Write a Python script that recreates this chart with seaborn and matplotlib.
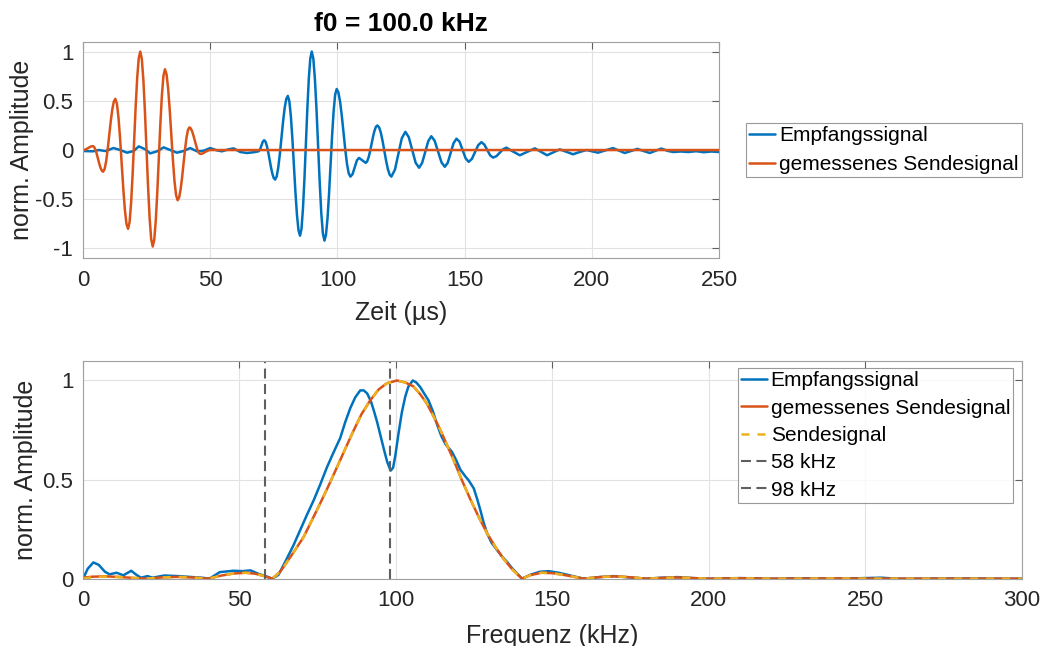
import matplotlib
matplotlib.use("Agg")
import matplotlib.pyplot as plt
import pandas as pd
import seaborn as sns

# ---------------------------------------------------------------- time domain
# received signal (µs, normalised amplitude)
t_rx = [0, 3.9, 6.2, 8.8, 12.0, 14.7, 17.3, 19.9, 21.9, 24.5,
        26.4, 29.1, 31.7, 34.3, 36.9, 39.5, 42.1, 44.8, 47.4, 50.0,
        52.6, 54.6, 57.2, 59.2, 61.8, 64.4, 67.0, 69.0,
        69.55, 70.1, 70.65, 71.2,
        71.74, 72.28, 72.81, 73.35, 73.89, 74.43, 74.96, 75.5,
        76.13, 76.75, 77.38, 78.0, 78.63, 79.25, 79.88, 80.5,
        81.1, 81.7, 82.3, 82.9, 83.5, 84.1, 84.7, 85.3,
        85.88, 86.45, 87.03, 87.6, 88.18, 88.75, 89.33, 89.9,
        90.53, 91.15, 91.78, 92.4, 93.03, 93.65, 94.28, 94.9,
        95.5, 96.1, 96.7, 97.3, 97.9, 98.5, 99.1, 99.7,
        100.38, 101.05, 101.73, 102.4, 103.08, 103.75, 104.43, 105.1,
        105.95, 106.8, 107.65, 108.5, 109.8, 111.1,
        111.68, 112.25, 112.83, 113.4, 113.98, 114.55, 115.13, 115.7,
        116.39, 117.08, 117.76, 118.45, 119.14, 119.83, 120.51, 121.2,
        122.6, 123.95, 125.3, 126.7, 128.05, 129.4, 130.75, 132.1,
        133.3, 134.5, 135.7, 136.9, 138.2, 139.55, 140.9, 142.2,
        143.35, 144.5, 145.65, 146.8, 148.0, 149.2, 150.4, 151.6,
        152.85, 154.1, 155.35, 156.6, 157.75, 158.9, 160.05, 161.2,
        162.5, 163.8, 165.1, 166.4,
        169.0, 171.7, 174.6, 177.6, 180.0, 182.4, 184.9, 187.4,
        190.0, 192.6, 195.2, 197.9, 200.1, 202.4, 205.3, 208.3,
        210.6, 212.9, 215.4, 217.9, 220.3, 222.8, 225.0, 227.3,
        230, 232, 235, 238, 241, 244, 247, 250]
a_rx = [-0.01, -0.013, 0.0, -0.01, 0.02, 0.0, -0.027, -0.01, 0.037, 0.007,
        -0.034, -0.013, 0.027, 0.0, -0.027, -0.01, 0.02, -0.013, -0.007, 0.02,
        -0.003, -0.013, 0.007, 0.017, -0.02, -0.03, -0.023, -0.013,
        0.003, 0.044, 0.084, 0.10,
        0.085, 0.041, -0.023, -0.10, -0.177, -0.241, -0.285, -0.30,
        -0.268, -0.176, -0.038, 0.125, 0.288, 0.426, 0.518, 0.55,
        0.496, 0.342, 0.112, -0.16, -0.432, -0.662, -0.816, -0.87,
        -0.799, -0.596, -0.293, 0.065, 0.423, 0.726, 0.929, 1.0,
        0.927, 0.719, 0.408, 0.04, -0.328, -0.639, -0.847, -0.92,
        -0.861, -0.694, -0.445, -0.15, 0.145, 0.394, 0.561, 0.62,
        0.586, 0.49, 0.345, 0.175, 0.005, -0.14, -0.236, -0.27,
        -0.245, -0.175, -0.105, -0.08, -0.105, -0.13,
        -0.116, -0.074, -0.013, 0.06, 0.133, 0.194, 0.236, 0.25,
        0.23, 0.174, 0.09, -0.01, -0.11, -0.194, -0.25, -0.27,
        -0.20, -0.04, 0.12, 0.185, 0.13, 0.0, -0.13, -0.18,
        -0.13, -0.02, 0.09, 0.14, 0.095, -0.015, -0.125, -0.17,
        -0.13, -0.03, 0.07, 0.115, 0.085, 0.0, -0.085, -0.12,
        -0.09, -0.02, 0.05, 0.08, 0.055, 0.0, -0.055, -0.077,
        -0.062, -0.027, 0.008, 0.024,
        -0.015, -0.053, -0.018, 0.017, -0.018, -0.053, -0.023, 0.007,
        -0.018, -0.043, -0.02, 0.0, -0.013, -0.027, -0.004, 0.02,
        -0.005, -0.03, -0.01, 0.012, -0.01, -0.03, -0.008, 0.015,
        -0.01, -0.02, -0.015, -0.02, -0.012, -0.022, -0.015, -0.02]

# measured transmit burst (µs, normalised amplitude)
t_tx = [0, 1.0, 2.0, 3.0, 3.9,
        4.4, 4.9, 5.4, 5.9, 6.4, 6.9, 7.4, 7.9,
        8.5, 9.1, 9.7, 10.3, 10.9, 11.5, 12.1, 12.7,
        13.33, 13.95, 14.58, 15.2, 15.83, 16.45, 17.08, 17.7,
        18.3, 18.9, 19.5, 20.1, 20.7, 21.3, 21.9, 22.5,
        23.11, 23.73, 24.34, 24.95, 25.56, 26.18, 26.79, 27.4,
        28.0, 28.6, 29.2, 29.8, 30.4, 31.0, 31.6, 32.2,
        32.83, 33.45, 34.08, 34.7, 35.33, 35.95, 36.58, 37.2,
        37.78, 38.35, 38.93, 39.5, 40.08, 40.65, 41.23, 41.8,
        42.34, 42.88, 43.41, 43.95, 44.49, 45.0, 45.56, 46.1,
        47.0, 48.0, 49.0, 50.0, 250.0]
a_tx = [0.0, 0.005, 0.02, 0.035, 0.04,
        0.03, 0.002, -0.04, -0.09, -0.14, -0.182, -0.21, -0.22,
        -0.192, -0.112, 0.008, 0.15, 0.292, 0.412, 0.492, 0.52,
        0.47, 0.327, 0.113, -0.14, -0.393, -0.607, -0.75, -0.80,
        -0.732, -0.536, -0.245, 0.10, 0.445, 0.736, 0.932, 1.0,
        0.925, 0.71, 0.389, 0.01, -0.369, -0.69, -0.905, -0.98,
        -0.912, -0.716, -0.425, -0.08, 0.265, 0.556, 0.752, 0.82,
        0.769, 0.625, 0.41, 0.155, -0.10, -0.315, -0.459, -0.51,
        -0.482, -0.402, -0.282, -0.14, 0.002, 0.122, 0.202, 0.23,
        0.22, 0.19, 0.147, 0.095, 0.043, 0.0, -0.03, -0.04,
        -0.035, -0.02, -0.006, 0.0, 0.0]

# ----------------------------------------------------------- frequency domain
f_rx = [0, 1.5, 3.3, 5, 7, 8.5, 10.7, 12.9, 15.4, 17, 18.5, 20.6, 22.2,
        26, 30.5, 35, 38, 40.4, 43.7, 48, 51, 53.5, 56.3, 58.5, 60.5,
        62.5, 65.1, 67.3, 69.4, 71.5, 73.7, 75.8, 77.9, 80, 82.2, 83.8,
        85.4, 87, 88.6, 89.7, 90.8, 92, 92.9, 94, 95.1, 96.2, 97.2, 98.3,
        99.1, 99.8, 100.8, 101.9, 103, 104, 105.4, 106.5, 107.8, 109,
        110.4, 111.8, 113.1, 114.5, 115.8, 116.8, 117.9, 119.2, 120.6,
        122, 123.3, 124.9, 126, 127, 128, 129.1, 130.6, 132.3, 134,
        135.5, 137, 138.2, 140.3, 143, 146, 148.8, 152, 156, 160, 165,
        169.6, 175, 180, 185, 190, 195, 200, 210, 220, 230, 240, 250,
        255, 260, 280, 300]
m_rx = [0.0, 0.05, 0.082, 0.07, 0.035, 0.022, 0.03, 0.017, 0.04, 0.02,
        0.005, 0.013, 0.005, 0.016, 0.013, 0.008, 0.005, 0.0, 0.033, 0.04,
        0.038, 0.042, 0.023, 0.012, 0.0,
        0.02, 0.10, 0.17, 0.245, 0.32, 0.395, 0.475, 0.56, 0.635, 0.71,
        0.79, 0.86, 0.915, 0.95, 0.95, 0.935, 0.895, 0.85, 0.79, 0.72,
        0.65, 0.59, 0.545, 0.56, 0.62, 0.73, 0.84, 0.92, 0.97, 1.0, 0.99,
        0.966, 0.935, 0.90, 0.845, 0.78, 0.72, 0.68, 0.66, 0.64, 0.60,
        0.55, 0.52, 0.495, 0.455, 0.40, 0.345, 0.285, 0.23, 0.18, 0.145,
        0.11, 0.085, 0.055, 0.035, 0.0, 0.02, 0.035, 0.038, 0.03, 0.015,
        0.0, 0.008, 0.013, 0.006, 0.0, 0.005, 0.008, 0.003, 0.0, 0.003,
        0.0, 0.002, 0.0, 0.003, 0.005, 0.0, 0.001, 0.0]

f_tx = [0, 3, 7, 12, 17, 20, 25, 30, 35, 40, 44, 48, 52, 55, 58, 60.5,
        63, 65, 68, 70.5, 73, 75.8, 78.5, 81.1, 83.8, 86.4, 89, 91.8,
        94.5, 97.1, 100.3, 103, 105.6, 107.8, 109.9, 112, 114.2, 116.3,
        118.4, 121, 123.8, 126.5, 129.1, 131.8, 134.4, 137.3, 140.3,
        143, 146.5, 150, 154, 160, 165, 170, 175, 180, 185, 190, 195,
        200, 210, 220, 240, 260, 300]
m_tx = [0.005, 0.01, 0.012, 0.008, 0.003, 0.0, 0.006, 0.009, 0.006, 0.0,
        0.015, 0.026, 0.03, 0.025, 0.013, 0.0,
        0.035, 0.08, 0.15, 0.21, 0.29, 0.38, 0.47, 0.56, 0.655, 0.745,
        0.83, 0.90, 0.955, 0.986, 1.0, 0.99, 0.97, 0.93, 0.883, 0.82,
        0.75, 0.675, 0.60, 0.50, 0.40, 0.31, 0.23, 0.16, 0.10, 0.045, 0.0,
        0.018, 0.03, 0.028, 0.018, 0.0, 0.008, 0.012, 0.007, 0.0, 0.004,
        0.006, 0.003, 0.0, 0.002, 0.0, 0.001, 0.0, 0.0]

# ideal transmit signal spectrum (same sampling grid)
f_ref = list(f_tx)
m_ref = [0.0, 0.008, 0.011, 0.008, 0.003, 0.0, 0.006, 0.009, 0.006, 0.0,
         0.015, 0.026, 0.03, 0.025, 0.013, 0.0,
         0.035, 0.08, 0.15, 0.21, 0.29, 0.38, 0.47, 0.56, 0.655, 0.745,
         0.83, 0.90, 0.955, 0.986, 1.0, 0.99, 0.97, 0.93, 0.883, 0.82,
         0.75, 0.675, 0.60, 0.50, 0.40, 0.31, 0.23, 0.16, 0.10, 0.045, 0.0,
         0.018, 0.03, 0.028, 0.018, 0.0, 0.008, 0.012, 0.007, 0.0, 0.004,
         0.006, 0.003, 0.0, 0.002, 0.0, 0.001, 0.0, 0.0]

f_markers = [58, 98]
marker_labels = ["58 kHz", "98 kHz"]

time_ticks = [0, 50, 100, 150, 200, 250]
freq_ticks = [0, 50, 100, 150, 200, 250, 300]
amp_ticks_top = [-1, -0.5, 0, 0.5, 1]
amp_labels_top = ["-1", "-0.5", "0", "0.5", "1"]
amp_ticks_bot = [0, 0.5, 1]
amp_labels_bot = ["0", "0.5", "1"]

# ---------------------------------------------------------------- styling
sns.set_theme(style="white")
plt.rcParams["font.family"] = ["Liberation Sans", "DejaVu Sans"]
plt.rcParams["axes.unicode_minus"] = False

BLUE = "#0072BD"
ORANGE = "#D95319"
YELLOW = "#EDB120"
GREY = "#5f5f5f"
TXT = "#262626"
LW = 1.8


def style_axes(ax):
    ax.grid(True, color="#e2e2e2", lw=0.8)
    ax.set_axisbelow(True)
    for sp in ax.spines.values():
        sp.set_visible(True)
        sp.set_color("#a0a0a0")
        sp.set_linewidth(0.8)
    ax.tick_params(direction="in", top=True, right=True, length=5, width=0.8,
                   color="#606060", labelsize=16, labelcolor=TXT)
    ax.tick_params(axis="x", pad=8.5)
    ax.tick_params(axis="y", pad=7)


def make_legend(ax, anchor, spacing):
    leg = ax.legend(loc="upper right", bbox_to_anchor=anchor,
                    bbox_transform=fig.transFigure, fontsize=15, frameon=True,
                    fancybox=False, edgecolor="#808080", handlelength=1.25,
                    handletextpad=0.18, borderpad=0.15, labelspacing=spacing,
                    borderaxespad=0)
    leg.get_frame().set_linewidth(0.8)
    for txt in leg.get_texts():
        txt.set_color("black")
    return leg


fig = plt.figure(figsize=(10.43, 6.46), dpi=100)
ax1 = fig.add_axes([0.0796, 0.6001, 0.6098, 0.3353])
ax2 = fig.add_axes([0.0796, 0.1042, 0.9000, 0.3375])

# ---- time signals
sns.lineplot(x=t_rx, y=a_rx, ax=ax1, color=BLUE, lw=LW, sort=False,
             estimator=None, label="Empfangssignal")
sns.lineplot(x=t_tx, y=a_tx, ax=ax1, color=ORANGE, lw=LW, sort=False,
             estimator=None, label="gemessenes Sendesignal")
ax1.set_xlim(0, 250)
ax1.set_ylim(-1.1, 1.1)
ax1.set_xticks(time_ticks)
ax1.set_xticklabels([str(v) for v in time_ticks])
ax1.set_yticks(amp_ticks_top)
ax1.set_yticklabels(amp_labels_top)
style_axes(ax1)
ax1.set_title("f0 = 100.0 kHz", fontsize=19, fontweight="bold", color="black", pad=8)
ax1.set_xlabel("Zeit (µs)", fontsize=18, color=TXT, labelpad=7)
ax1.set_ylabel("norm. Amplitude", fontsize=18, color=TXT)
ax1.yaxis.set_label_coords((34 - 83) / 636, 0.5)
make_legend(ax1, (0.9796, 0.8091), 0.47)

# ---- spectra
sns.lineplot(x=f_rx, y=m_rx, ax=ax2, color=BLUE, lw=LW, sort=False,
             estimator=None, label="Empfangssignal")
sns.lineplot(x=f_tx, y=m_tx, ax=ax2, color=ORANGE, lw=LW, sort=False,
             estimator=None, label="gemessenes Sendesignal")
sns.lineplot(x=f_ref, y=m_ref, ax=ax2, color=YELLOW, lw=LW, sort=False,
             estimator=None, label="Sendesignal", dashes=False,
             linestyle=(0, (3.2, 3.2)))
for fm, lab in zip(f_markers, marker_labels):
    ax2.axvline(fm, color=GREY, lw=1.5, linestyle=(0, (4.8, 2.6)), label=lab)
ax2.set_xlim(0, 300)
ax2.set_ylim(0, 1.1)
ax2.set_xticks(freq_ticks)
ax2.set_xticklabels([str(v) for v in freq_ticks])
ax2.set_yticks(amp_ticks_bot)
ax2.set_yticklabels(amp_labels_bot)
style_axes(ax2)
ax2.set_xlabel("Frequenz (kHz)", fontsize=18, color=TXT, labelpad=9)
ax2.set_ylabel("norm. Amplitude", fontsize=18, color=TXT)
ax2.yaxis.set_label_coords((38 - 83) / 938.7, 0.5)
make_legend(ax2, (0.9715, 0.4299), 0.4)

fig.savefig("out.png", dpi=100, facecolor="white")
